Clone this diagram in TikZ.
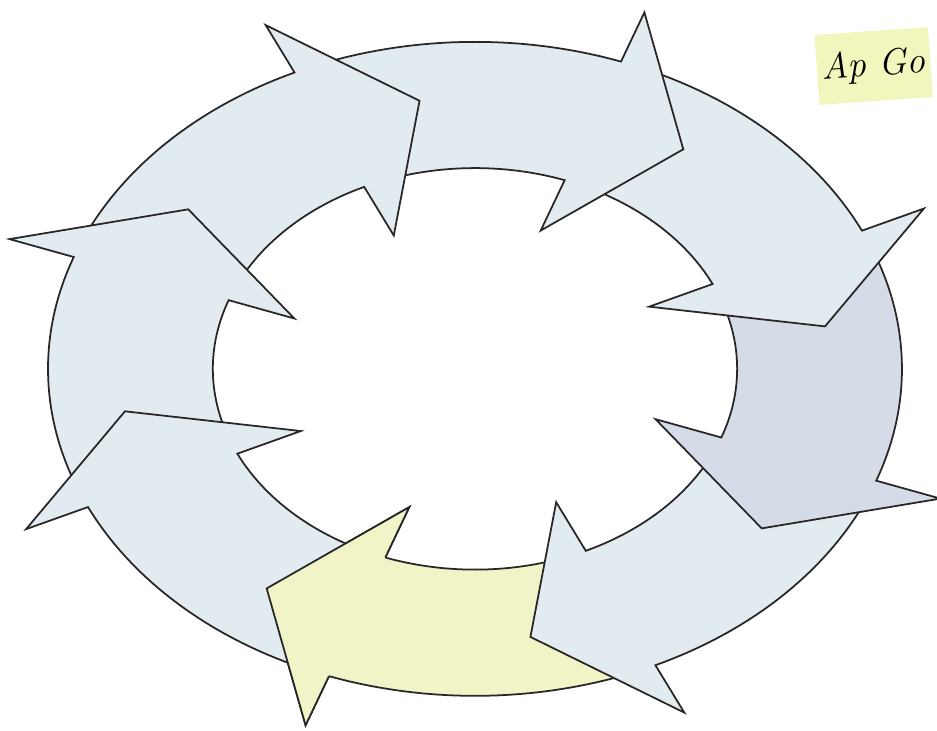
\documentclass[tikz,border=0pt]{standalone}
\definecolor{ringblue}{RGB}{226,235,240}
\definecolor{ringgrey}{RGB}{213,220,231}
\definecolor{ringyellow}{RGB}{240,244,198}
\definecolor{ringline}{RGB}{40,38,38}
\definecolor{notemark}{RGB}{240,246,188}
% one curved arrow of the ring: #1 = angle of the tip, #2 = fill
\newcommand{\ringarrow}[2]{%
  \filldraw[ringpiece,fill=#2]
    plot[domain={#1+58}:{#1+16},samples=30] ({cos(\x)},{sin(\x)})
    -- ({#1+16}:1.16) -- (#1:0.83) -- ({#1+16}:0.45)
    -- plot[domain={#1+16}:{#1+58},samples=30] ({0.614*cos(\x)},{0.614*sin(\x)})
    -- cycle;}
% only the head again, so that it lies on the tail it covers
\newcommand{\ringhead}[2]{%
  \fill[fill=#2] ({#1+16}:1) -- ({#1+16}:1.16) -- (#1:0.83) -- ({#1+16}:0.45)
    -- ({#1+16}:0.614) -- cycle;
  \draw[ringpiece] ({#1+16}:1) -- ({#1+16}:1.16) -- (#1:0.83) -- ({#1+16}:0.45)
    -- ({#1+16}:0.614);}
\begin{document}
\begin{tikzpicture}[x=8.54cm,y=6.54cm,
  ringpiece/.style={draw=ringline,line width=1pt,line join=miter},
  notebox/.style={anchor=west,fill=notemark,rotate=4,minimum height=1.4cm,
    inner xsep=3pt,font=\fontsize{21}{21}\selectfont\itshape}]
 \useasboundingbox (-1.1124,-1.107) rectangle (1.082,1.128);
 \ringarrow{-126}{ringyellow}
 \ringarrow{-81}{ringblue}
 \ringarrow{-36}{ringgrey}
 \ringarrow{9}{ringblue}
 \ringarrow{54}{ringblue}
 \ringarrow{99}{ringblue}
 \ringarrow{144}{ringblue}
 \ringarrow{189}{ringblue}
 \ringhead{-126}{ringyellow}
 \node[notebox] (note) at (0.80,0.914) {Ap Go};
\end{tikzpicture}
\end{document}
